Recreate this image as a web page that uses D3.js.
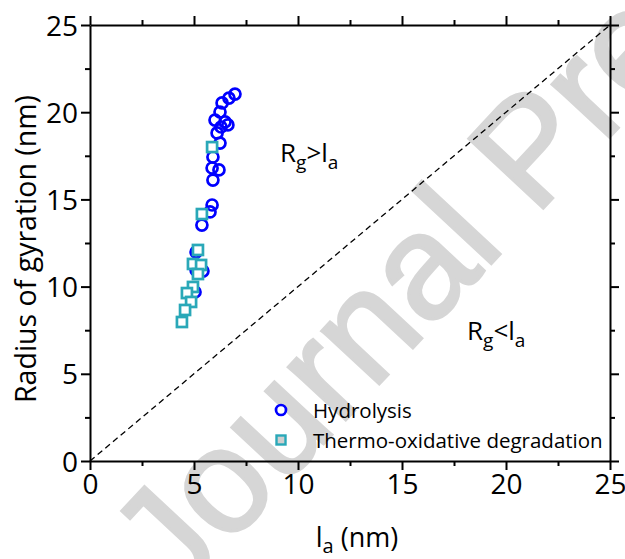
<!DOCTYPE html>
<html><head><meta charset="utf-8">
<script src="https://cdn.jsdelivr.net/npm/d3@7"></script>
<style>body{margin:0;background:#fff} svg{display:block}</style>
</head><body>
<script>
// Data
const hydroX = [6.97, 6.68, 6.35, 6.25, 6.01, 6.49, 6.63, 6.30, 6.11, 6.25, 5.91, 5.87, 6.20, 5.91, 5.87, 5.77, 5.38, 5.10, 5.10, 5.43, 5.05];
const hydroY = [21.04, 20.81, 20.53, 20.01, 19.55, 19.44, 19.27, 19.15, 18.81, 18.23, 17.43, 16.80, 16.69, 16.11, 14.68, 14.28, 13.53, 11.98, 10.95, 10.89, 9.69];
const thermoX = [5.87, 5.38, 5.19, 4.95, 5.34, 5.19, 4.95, 4.66, 4.86, 4.57, 4.42];
const thermoY = [18.00, 14.16, 12.10, 11.30, 11.24, 10.72, 9.98, 9.63, 9.12, 8.66, 7.97];
const xTicks = [0, 5, 10, 15, 20, 25];
const yTicks = [0, 5, 10, 15, 20, 25];
const minorTicks = [2.5, 7.5, 12.5, 17.5, 22.5];
const seriesNames = ["Hydrolysis", "Thermo-oxidative degradation"];

const W = 625, H = 559;
const M = {left: 90, right: 15, top: 25, bottom: 98};
const FONT = "'Open Sans', 'Noto Sans', sans-serif";
const BLUE = "#0000ff", TEAL = "#2aa8b8";

const svg = d3.select("body").append("svg").attr("width", W).attr("height", H)
  .style("font-family", FONT);

const x = d3.scaleLinear().domain([0, 25]).range([M.left, W - M.right]);
const y = d3.scaleLinear().domain([0, 25]).range([H - M.bottom, M.top]);

// watermark
svg.append("text")
  .attr("transform", "translate(176,602) rotate(-47)")
  .attr("font-family", "'Liberation Sans', Arial, sans-serif")
  .attr("font-size", 148)
  .attr("fill", "#d6d6d6")
  .attr("stroke", "#d6d6d6")
  .attr("stroke-width", 3)
  .text("Journal Pre-proof");

// diagonal dashed line
svg.append("line")
  .attr("x1", x(0)).attr("y1", y(0)).attr("x2", x(25)).attr("y2", y(25))
  .attr("stroke", "#000").attr("stroke-width", 1.3).attr("stroke-dasharray", "6,4");

// data
const hyd = hydroX.map((v, i) => [v, hydroY[i]]);
const thr = thermoX.map((v, i) => [v, thermoY[i]]);
svg.append("g").selectAll("circle").data(hyd).join("circle")
  .attr("cx", d => x(d[0])).attr("cy", d => y(d[1])).attr("r", 5.5)
  .attr("fill", "none").attr("stroke", BLUE).attr("stroke-width", 2.7);
const sq = 10;
svg.append("g").selectAll("rect").data(thr).join("rect")
  .attr("x", d => x(d[0]) - sq / 2).attr("y", d => y(d[1]) - sq / 2)
  .attr("width", sq).attr("height", sq)
  .attr("fill", "#fff").attr("stroke", TEAL).attr("stroke-width", 2.7);

// axes
function styleAxis(g) {
  g.selectAll(".domain").attr("stroke-width", 2);
  g.selectAll(".tick line").attr("stroke-width", 2);
  g.selectAll(".tick text").attr("font-size", 28).attr("font-family", FONT).attr("fill", "#000");
}
const axB = svg.append("g").attr("transform", `translate(0,${y(0)})`)
  .call(d3.axisBottom(x).tickValues(xTicks).tickSize(9).tickSizeOuter(0).tickPadding(4).tickFormat(d3.format("d")));
axB.append("g").call(d3.axisBottom(x).tickValues(minorTicks).tickSize(5).tickFormat(""))
  .select(".domain").remove();
styleAxis(axB);
const axL = svg.append("g").attr("transform", `translate(${x(0)},0)`)
  .call(d3.axisLeft(y).tickValues(yTicks).tickSize(9).tickSizeOuter(0).tickPadding(3).tickFormat(d3.format("d")));
axL.append("g").call(d3.axisLeft(y).tickValues(minorTicks).tickSize(5).tickFormat(""))
  .select(".domain").remove();
styleAxis(axL);
axL.selectAll(".tick text").attr("dy", "0.36em");
const axT = svg.append("g").attr("transform", `translate(0,${y(25)})`)
  .call(d3.axisTop(x).tickValues(xTicks).tickSize(9).tickSizeOuter(0).tickFormat(""));
axT.append("g").call(d3.axisTop(x).tickValues(minorTicks).tickSize(5).tickFormat(""))
  .select(".domain").remove();
styleAxis(axT);
const axR = svg.append("g").attr("transform", `translate(${x(25)},0)`)
  .call(d3.axisRight(y).tickValues(yTicks).tickSize(9).tickSizeOuter(0).tickFormat(""));
axR.append("g").call(d3.axisRight(y).tickValues(minorTicks).tickSize(5).tickFormat(""))
  .select(".domain").remove();
styleAxis(axR);

// axis titles
const xt = svg.append("text").attr("x", 357).attr("y", 547).attr("text-anchor", "middle")
  .attr("font-size", 27).attr("fill", "#000");
xt.append("tspan").text("l");
xt.append("tspan").attr("font-size", 20).attr("dy", 6).text("a");
xt.append("tspan").attr("dy", -6).text(" (nm)");

svg.append("text").attr("transform", `translate(36,${(y(0) + y(25)) / 2 + 6}) rotate(-90)`)
  .attr("text-anchor", "middle").attr("font-size", 28.5).attr("fill", "#000")
  .text("Radius of gyration (nm)");

// annotations
function relLabel(px, py, op) {
  const t = svg.append("text").attr("x", px).attr("y", py).attr("font-size", 26).attr("fill", "#000");
  t.append("tspan").text("R");
  t.append("tspan").attr("font-size", 19).attr("dy", 7).text("g");
  t.append("tspan").attr("dy", -7).text(op + "l");
  t.append("tspan").attr("font-size", 19).attr("dy", 7).text("a");
}
relLabel(280, 162, ">");
relLabel(467, 340, "<");

// legend
const lg = svg.append("g");
lg.append("circle").attr("cx", 281).attr("cy", 410).attr("r", 5)
  .attr("fill", "#fff").attr("stroke", BLUE).attr("stroke-width", 2.7);
lg.append("rect").attr("x", 281 - 4.5).attr("y", 440 - 4.5).attr("width", 9).attr("height", 9)
  .attr("fill", "#cfcfcf").attr("stroke", TEAL).attr("stroke-width", 2.4);
lg.append("text").attr("x", 313).attr("y", 418).attr("font-size", 20.5).attr("fill", "#000").text(seriesNames[0]);
lg.append("text").attr("x", 313).attr("y", 448).attr("font-size", 20.5).attr("fill", "#000").text(seriesNames[1]);
</script>
</body></html>
